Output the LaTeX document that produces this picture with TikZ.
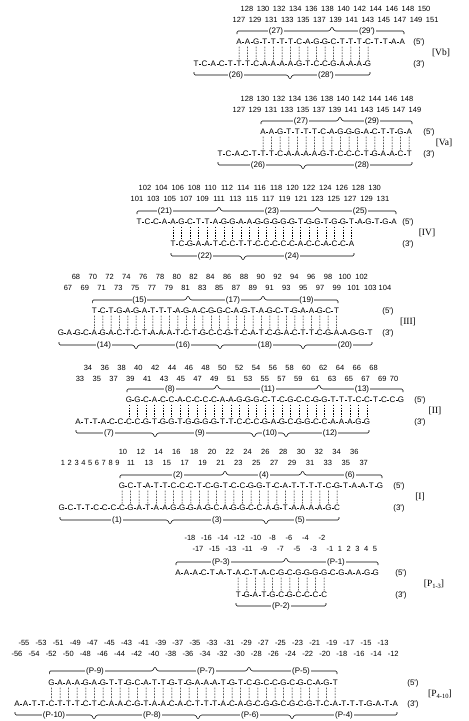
\documentclass[tikz,border=0pt]{standalone}
\usepackage{fontspec}
\newfontfamily\lsans{Liberation Sans}
\newfontfamily\lserif{Liberation Serif}
\tikzset{
 nt/.style={inner sep=0pt, text height=5.8pt, text depth=0pt, font=\lsans\fontsize{8}{9}\selectfont},
 num/.style={inner sep=0pt, text height=5.4pt, text depth=0pt, font=\lsans\fontsize{7.5}{8}\selectfont},
 hy/.style={line width=0.55pt},
 tk/.style={line width=0.5pt, dash pattern=on 1.7pt off 1.2pt, shorten <=1.5pt, shorten >=1.5pt},
 br/.style={line width=0.55pt, rounded corners=1.2pt},
 lab/.style={fill=white, inner sep=0.8pt, text height=5.8pt, text depth=1.6pt, font=\lsans\fontsize{8}{9}\selectfont},
 endlab/.style={inner sep=0pt, text height=5.8pt, text depth=1.6pt, font=\lsans\fontsize{8}{9}\selectfont},
 blk/.style={inner sep=0pt, font=\lserif\fontsize{9.5}{10}\selectfont}
}
\newcommand\strand[5]{%
 \foreach \b [count=\i] in {#5} {
   \node[nt] (#1\i) at ({#2+(\i-1)*#4},#3) {\b};
   \ifnum\i>1
     \draw[hy] ({#2+(\i-1.5)*#4-1},#3) -- ({#2+(\i-1.5)*#4+1},#3);
   \fi
 }}
\newcommand\pairs[5]{%
 \foreach \i in {#3,...,#4} {
   \pgfmathtruncatemacro\j{\i+#5}
   \draw[tk] (#1\i) -- (#2\j);
 }}
\newcommand\numrow[5]{%
 \foreach \n [count=\k] in {#5} { \node[num] (#1\k) at ({#3+(\k-1)*#4},#2) {\n}; }}
\newcommand\tbr[6]{%
 \draw[br] (#2,{#1+3}) -- (#2,#1) \foreach \p in {#4} { -- ({\p-2.5},#1) -- (\p,{#1-4.5}) -- ({\p+2.5},#1) } -- (#3,#1) -- (#3,{#1+3});
 \foreach \x/\t [count=\k] in {#5} { \node[lab] (#6\k) at (\x,#1) {\t}; }}
\newcommand\bbr[6]{%
 \draw[br] (#2,{#1-3}) -- (#2,#1) \foreach \p in {#4} { -- ({\p-2.5},#1) -- (\p,{#1+4.5}) -- ({\p+2.5},#1) } -- (#3,#1) -- (#3,{#1-3});
 \foreach \x/\t [count=\k] in {#5} { \node[lab] (#6\k) at (\x,#1) {\t}; }}
\begin{document}
\begin{tikzpicture}[x=1pt,y=-1pt]
\useasboundingbox[fill=white] (0,0) rectangle (469,721);
% ---------------- Vb
\numrow{Vbna}{9}{247}{16.1}{128,130,...,150}
\numrow{Vbnb}{20}{239}{16.1}{127,129,...,151}
\strand{Vbt}{239}{42}{8.6}{A,A,G,T,T,T,T,C,A,G,G,C,T,T,T,C,T,T,A,A}
\strand{Vbb}{196}{64}{8.6}{T,C,A,C,T,T,T,C,A,A,A,A,G,T,C,C,G,A,A,A,G}
\pairs{Vbt}{Vbb}{1}{16}{5}
\tbr{31}{237}{404}{332}{276/{(27)},367/{(29')}}{Vbl}
\bbr{75}{194}{370}{290}{236/{(26)},326/{(28')}}{Vbm}
\node[endlab] (Vb5) at (419,42) {(5')};
\node[endlab] (Vb3) at (419,64) {(3')};
\node[blk] (Vbk) at (441,53) {[Vb]};
% ---------------- Va
\numrow{Vana}{99}{247}{16}{128,130,...,148}
\numrow{Vanb}{110}{239}{16}{127,129,...,149}
\strand{Vat}{263}{132}{8.6}{A,A,G,T,T,T,T,C,A,G,G,G,A,C,T,T,G,A}
\strand{Vab}{220}{154}{8.6}{T,C,A,C,T,T,T,C,A,A,A,A,G,T,C,C,C,T,G,A,A,C,T}
\pairs{Vat}{Vab}{1}{18}{5}
\tbr{121}{261}{412}{340}{301/{(27)},372/{(29)}}{Val}
\bbr{165}{218}{412}{303}{258/{(26)},362/{(28)}}{Vam}
\node[endlab] (Va5) at (429,132) {(5')};
\node[endlab] (Va3) at (429,154) {(3')};
\node[blk] (Vak) at (444,143) {[Va]};
% ---------------- IV
\numrow{IVna}{188}{145}{16.4}{102,104,...,130}
\numrow{IVnb}{199}{137}{16.4}{101,103,...,131}
\strand{IVt}{139}{222}{8.5}{T,C,C,A,A,G,C,T,T,A,G,G,A,A,G,G,G,G,G,T,G,G,T,G,G,T,A,G,T,G,A}
\strand{IVb}{173}{244}{8.5}{T,C,G,A,A,T,C,C,T,T,C,C,C,C,C,A,C,C,A,C,C,A}
\pairs{IVt}{IVb}{5}{26}{(-4)}
\tbr{211}{137}{396}{219,317}{165/{(21)},272/{(23)},360/{(25)}}{IVl}
\bbr{256}{171}{354}{243}{205/{(22)},292/{(24)}}{IVm}
\node[endlab] (IV5) at (408,222) {(5')};
\node[endlab] (IV3) at (408,244) {(3')};
\node[blk] (IVk) at (427,233) {[IV]};
% ---------------- III
\numrow{IIIna}{277}{76}{16.8}{68,70,...,102}
\numrow{IIInb}{288}{68}{16.8}{67,69,...,103}
\node[num] (IIInc) at (385,288) {104};
\strand{IIIt}{94.4}{311}{8.35}{T,C,T,G,A,G,A,T,T,T,A,G,A,C,G,G,C,A,G,T,A,G,C,T,G,A,A,G,C,T}
\strand{IIIb}{61}{333}{8.35}{G,A,G,C,A,G,A,C,T,C,T,A,A,A,T,C,T,G,C,C,G,T,C,A,T,C,G,A,C,T,T,C,G,A,A,G,G,T}
\pairs{IIIt}{IIIb}{1}{30}{4}
\tbr{300}{92.4}{338}{188,263}{139.5/{(15)},233/{(17)},306.5/{(19)}}{IIIl}
\bbr{345}{59}{372}{136,220,303}{104/{(14)},183/{(16)},265/{(18)},345/{(20)}}{IIIm}
\node[endlab] (III5) at (388,311) {(5')};
\node[endlab] (III3) at (388,333) {(3')};
\node[blk] (IIIk) at (408,322) {[III]};
% ---------------- II
\numrow{IIna}{368}{88}{16.8}{34,36,...,68}
\numrow{IInb}{379}{80}{16.8}{33,35,...,69}
\node[num] (IInc) at (394,379) {70};
\strand{IIt}{129}{400}{8.5}{G,G,C,A,C,C,A,C,C,C,C,A,A,G,G,G,C,T,C,G,C,C,G,G,T,T,T,C,C,T,C,C,G}
\strand{IIb}{78}{422}{8.5}{A,T,T,A,C,C,C,C,G,T,G,G,T,G,G,G,G,T,T,C,C,C,G,A,G,C,G,G,C,C,A,A,A,G,G}
\pairs{IIt}{IIb}{1}{29}{6}
\tbr{389}{127}{403}{217,319}{170/{(8)},268/{(11)},362/{(13)}}{IIl}
\bbr{433}{76}{369}{155,254,286}{109/{(7)},200/{(9)},270/{(10)},330/{(12)}}{IIm}
\node[endlab] (II5) at (420,400) {(5')};
\node[endlab] (II3) at (420,422) {(3')};
\node[blk] (IIk) at (435,411) {[II]};
% ---------------- I
\numrow{Ina}{452}{123}{17.8}{10,12,...,36}
\numrow{Inb}{463}{63}{6.8}{1,...,9}
\numrow{Inc}{463}{131}{17.9}{11,13,...,37}
\strand{It}{122}{486}{8.6}{G,C,T,A,T,T,C,C,C,T,C,G,T,C,C,G,G,T,C,A,T,T,T,T,C,G,T,A,A,T,G}
\strand{Ib}{61.8}{508}{8.6}{G,C,T,T,C,C,C,C,G,A,T,A,A,G,G,G,A,G,C,A,G,G,C,C,A,G,T,A,A,A,A,G,C}
\pairs{It}{Ib}{1}{26}{7}
\tbr{475}{120}{382}{225,302.6}{178/{(2)},264/{(4)},350/{(6)}}{Il}
\bbr{520}{60}{339}{170,266}{117/{(1)},217/{(3)},300/{(5)}}{Im}
\node[endlab] (I5) at (399,486) {(5')};
\node[endlab] (I3) at (399,508) {(3')};
\node[blk] (Ik) at (420,497) {[I]};
% ---------------- P1-3
\numrow{Pana}{538}{190}{16.5}{-18,-16,...,-2}
\numrow{Panb}{549}{198}{16.5}{-17,-15,...,-1}
\numrow{Panc}{549}{340}{8.75}{1,...,5}
\strand{Pat}{178}{573}{8.6}{A,A,A,C,T,A,T,A,C,T,A,C,G,C,G,G,G,G,C,G,A,A,G,G}
\strand{Pab}{238.2}{595}{8.6}{T,G,A,T,G,C,G,C,C,C,C}
\pairs{Pat}{Pab}{8}{18}{(-7)}
\tbr{562}{176}{378}{286}{221/{(P-3)},336/{(P-1)}}{Pal}
\draw[br] (236,603) -- (236,606) -- (326,606) -- (326,603);
\node[lab] (Pam1) at (281,606) {(P-2)};
\node[endlab] (Pa5) at (401,573) {(5')};
\node[endlab] (Pa3) at (401,595) {(3')};
\node[blk] (Pak) at (434,584) {[P\raisebox{-0.5ex}{\fontsize{6.5}{6.5}\selectfont 1-3}]};
% ---------------- P4-10
\numrow{Pbna}{643}{24}{17.1}{-55,-53,...,-13}
\numrow{Pbnb}{654}{17}{17.1}{-56,-54,...,-12}
\strand{Pbt}{51.4}{683}{8.6}{G,A,A,A,G,A,G,T,T,G,C,A,T,T,G,T,G,A,A,A,T,G,T,C,G,C,C,G,C,G,C,A,G,T}
\strand{Pbb}{17}{704}{8.6}{A,A,T,T,C,T,T,T,C,T,C,A,A,C,G,T,A,A,C,A,C,T,T,T,A,C,A,G,C,G,G,C,G,C,G,T,C,A,T,T,T,G,A,T,A}
\pairs{Pbt}{Pbb}{1}{34}{4}
\tbr{671}{49.4}{337}{155,249}{95/{(P-9)},206/{(P-7)},301/{(P-5)}}{Pbl}
\bbr{715}{15}{397}{94,198,292}{54/{(P-10)},152/{(P-8)},250/{(P-6)},344/{(P-4)}}{Pbm}
\node[endlab] (Pb5) at (413,683) {(5')};
\node[endlab] (Pb3) at (413,704) {(3')};
\node[blk] (Pbk) at (440,694) {[P\raisebox{-0.5ex}{\fontsize{6.5}{6.5}\selectfont 4-10}]};
\end{tikzpicture}
\end{document}
